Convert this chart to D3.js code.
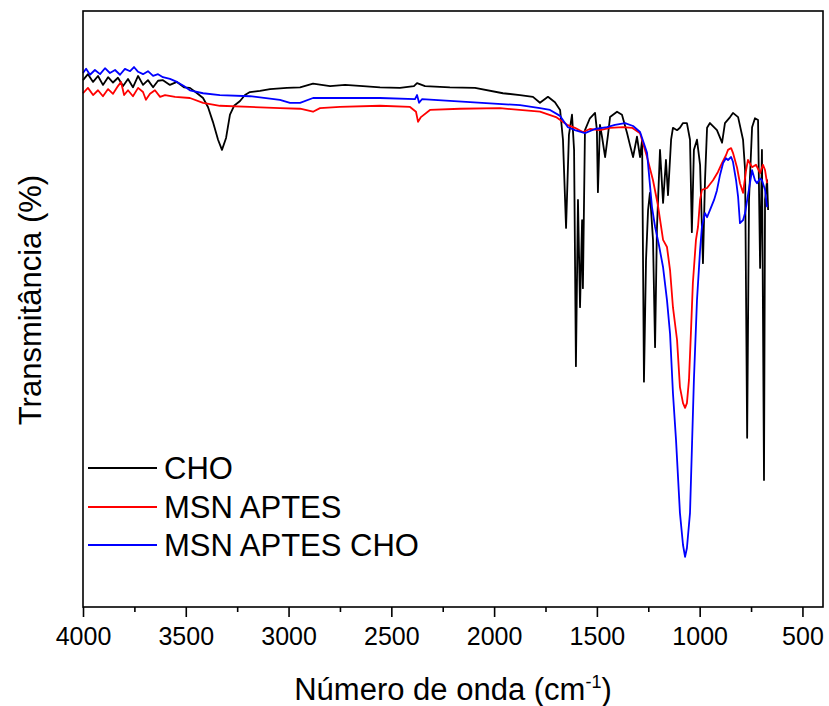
<!DOCTYPE html>
<html>
<head>
<meta charset="utf-8">
<script src="https://cdn.jsdelivr.net/npm/d3@7"></script>
<style>
body { margin: 0; background: #fff; }
text { font-family: Arial, "Liberation Sans", sans-serif; fill: #000; }
</style>
</head>
<body>
<svg id="chart" width="829" height="706"></svg>
<script>
// [wavenumber (cm-1), transmittance] pairs
var cho = [
	[4000, 88.4], [3976, 89.4], [3951, 88.1], [3927, 89.1], [3903, 87.6], [3878, 88.9], [3854, 88.0],
	[3830, 88.8], [3805, 87.4], [3781, 88.6], [3757, 87.2], [3732, 89.1], [3708, 87.6], [3684, 88.4],
	[3659, 87.2], [3635, 88.3], [3611, 88.4], [3577, 87.6], [3543, 88.1], [3509, 87.2], [3480, 87.1],
	[3445, 86.2], [3416, 85.4], [3392, 83.9], [3368, 81.4], [3343, 78.4], [3324, 76.7], [3304, 78.7],
	[3285, 82.6], [3265, 84.1], [3236, 84.9], [3212, 85.9], [3188, 86.4], [3139, 86.6], [3090, 86.9],
	[3008, 87.1], [2944, 87.2], [2881, 87.8], [2798, 87.4], [2725, 87.6], [2638, 87.4], [2555, 87.2],
	[2458, 87.1], [2390, 87.4], [2375, 87.9], [2336, 87.4], [2215, 87.2], [2093, 87.1], [1957, 86.2],
	[1874, 85.9], [1811, 85.6], [1777, 84.6], [1738, 85.6], [1704, 84.7], [1679, 83.4], [1665, 78.4],
	[1650, 63.6], [1636, 79.2], [1621, 82.6], [1611, 76.7], [1602, 40.4], [1592, 68.3], [1582, 50.3],
	[1572, 64.9], [1568, 53.5], [1558, 80.0], [1534, 82.0], [1509, 82.9], [1500, 80.0], [1495, 69.6],
	[1485, 80.9], [1475, 78.9], [1460, 75.5], [1446, 79.2], [1436, 82.2], [1402, 83.1], [1378, 82.6],
	[1353, 79.5], [1339, 77.5], [1324, 75.5], [1305, 78.9], [1290, 75.5], [1280, 78.4], [1271, 37.8],
	[1261, 58.2], [1251, 66.6], [1242, 69.5], [1227, 61.6], [1217, 43.6], [1208, 63.3], [1193, 76.7],
	[1178, 67.8], [1164, 75.0], [1154, 69.1], [1139, 78.4], [1130, 80.4], [1110, 80.0], [1096, 80.4],
	[1081, 81.2], [1062, 81.2], [1047, 78.4], [1038, 62.9], [1028, 76.7], [1013, 78.4], [998, 74.2],
	[984, 57.7], [974, 71.6], [964, 80.4], [950, 81.2], [916, 80.0], [891, 77.9], [877, 81.2],
	[852, 82.2], [838, 82.9], [813, 82.2], [789, 78.4], [779, 73.3], [769, 28.4], [760, 68.3],
	[745, 80.5], [731, 82.0], [716, 81.7], [706, 56.9], [697, 76.7], [687, 21.3], [682, 68.3],
	[672, 71.6], [667, 66.6]
]

var msnAptes = [
	[4000, 86.2], [3976, 87.1], [3951, 85.9], [3927, 86.7], [3903, 85.7], [3878, 86.9], [3854, 86.1],
	[3830, 87.4], [3815, 88.1], [3800, 85.9], [3781, 86.7], [3757, 85.7], [3732, 87.1], [3708, 86.4],
	[3694, 85.1], [3674, 86.1], [3650, 86.7], [3625, 85.6], [3601, 85.9], [3552, 85.6], [3480, 85.4],
	[3416, 84.6], [3334, 84.1], [3188, 83.9], [3042, 83.7], [2944, 83.6], [2881, 83.1], [2847, 83.7],
	[2750, 83.9], [2555, 84.1], [2409, 83.9], [2380, 83.1], [2370, 81.4], [2356, 82.2], [2312, 83.4],
	[2166, 83.6], [1971, 83.7], [1777, 83.1], [1699, 82.2], [1645, 80.9], [1607, 80.4], [1568, 79.7],
	[1534, 80.2], [1485, 80.0], [1436, 80.4], [1373, 80.5], [1329, 80.4], [1290, 79.5], [1256, 75.5],
	[1227, 71.6], [1203, 67.4], [1178, 61.6], [1159, 60.4], [1144, 56.5], [1130, 50.3], [1110, 44.8],
	[1096, 36.9], [1081, 34.2], [1071, 33.4], [1062, 34.2], [1052, 38.1], [1042, 46.5], [1033, 54.4],
	[1018, 61.6], [1008, 63.8], [998, 68.3], [989, 70.0], [964, 70.3], [935, 71.6], [911, 73.0],
	[891, 74.5], [872, 75.8], [862, 76.7], [847, 77.0], [838, 76.2], [818, 73.7], [804, 71.1],
	[789, 69.5], [774, 73.3], [765, 75.0], [745, 73.8], [726, 74.2], [706, 72.8], [692, 74.2],
	[682, 73.3], [672, 71.1]
]

var msnAptesCho = [
	[4000, 89.6], [3985, 90.3], [3966, 89.3], [3942, 90.1], [3917, 89.4], [3893, 90.4], [3869, 89.6],
	[3844, 90.1], [3820, 89.3], [3796, 90.3], [3771, 89.9], [3752, 90.6], [3732, 89.8], [3708, 89.4],
	[3684, 89.9], [3659, 89.1], [3635, 89.4], [3611, 88.9], [3577, 88.6], [3543, 88.1], [3509, 87.4],
	[3480, 86.7], [3416, 86.2], [3334, 85.9], [3188, 85.7], [3042, 85.1], [2993, 84.6], [2944, 84.6],
	[2881, 85.4], [2750, 85.4], [2555, 85.4], [2385, 85.2], [2375, 85.9], [2365, 84.6], [2351, 85.2],
	[2117, 84.7], [1874, 84.2], [1777, 83.7], [1728, 83.4], [1679, 82.4], [1641, 80.5], [1607, 80.0],
	[1558, 79.5], [1509, 80.2], [1451, 80.5], [1412, 80.9], [1363, 81.2], [1324, 80.7], [1290, 79.7],
	[1256, 76.2], [1232, 67.1], [1217, 63.8], [1198, 60.7], [1178, 57.0], [1159, 51.5], [1144, 45.8],
	[1130, 35.9], [1115, 28.0], [1096, 15.8], [1081, 10.4], [1071, 8.4], [1062, 9.9], [1047, 15.8],
	[1038, 26.3], [1028, 38.1], [1013, 51.5], [998, 59.9], [989, 63.8], [974, 66.1], [964, 65.4],
	[950, 66.6], [930, 68.3], [916, 69.9], [901, 72.5], [886, 74.5], [872, 75.3], [862, 75.0],
	[847, 75.5], [838, 74.7], [823, 71.6], [813, 68.8], [804, 64.4], [789, 64.9], [779, 66.1],
	[765, 69.1], [745, 73.3], [731, 71.6], [721, 71.1], [706, 71.9], [697, 71.6], [682, 70.0],
	[672, 67.1]
]

var seriesNames = ['CHO', 'MSN APTES', 'MSN APTES CHO']
var seriesColors = ['#000000', '#ff0000', '#0000ff']
var xTicks = [4000, 3500, 3000, 2500, 2000, 1500, 1000, 500]
var xMinorTicks = [3750, 3250, 2750, 2250, 1750, 1250, 750]

var svg = d3.select('#chart')
var plotLeft = 83, plotRight = 823, plotTop = 11, plotBottom = 607

var xScale = d3.scaleLinear().domain([4000, 400]).range([plotLeft, plotRight])
var yScale = d3.scaleLinear().domain([0, 100]).range([plotBottom, plotTop])

var line = d3.line()
	.x(function (d) { return xScale(d[0]) })
	.y(function (d) { return yScale(d[1]) })

var allSeries = [cho, msnAptes, msnAptesCho]

// spectra
svg.append('g')
	.selectAll('path')
	.data(allSeries)
	.enter()
	.append('path')
	.attr('d', line)
	.style('fill', 'none')
	.style('stroke', function (d, i) { return seriesColors[i] })
	.attr('stroke-width', 1.8)
	.attr('stroke-linejoin', 'round')

// frame
svg.append('rect')
	.attr('x', plotLeft).attr('y', plotTop)
	.attr('width', plotRight - plotLeft).attr('height', plotBottom - plotTop)
	.style('fill', 'none').style('stroke', '#000').attr('stroke-width', 1.6)

// bottom axis, major + minor ticks
var xAxis = d3.axisBottom(xScale).tickValues(xTicks).tickSize(10).tickPadding(10).tickFormat(d3.format('d'))
var gx = svg.append('g').attr('transform', 'translate(0,' + plotBottom + ')').call(xAxis)
gx.select('.domain').remove()
gx.selectAll('line').attr('stroke-width', 1.6)
gx.selectAll('text').style('font-size', '25px').style('font-family', 'Arial, "Liberation Sans", sans-serif')

var gMinor = svg.append('g').attr('transform', 'translate(0,' + plotBottom + ')')
	.call(d3.axisBottom(xScale).tickValues(xMinorTicks).tickSize(5).tickFormat(''))
gMinor.select('.domain').remove()
gMinor.selectAll('line').attr('stroke-width', 1.6)

// axis titles
var xTitle = svg.append('text')
	.attr('x', 453).attr('y', 700)
	.attr('text-anchor', 'middle')
	.style('font-size', '31px')
xTitle.append('tspan').text('Número de onda (cm')
xTitle.append('tspan').attr('dy', -12).style('font-size', '18px').text('-1')
xTitle.append('tspan').attr('dy', 12).text(')')

svg.append('text')
	.attr('transform', 'translate(41,300) rotate(-90)')
	.attr('text-anchor', 'middle')
	.style('font-size', '31px')
	.text('Transmitância (%)')

// legend
var legend = svg.append('g')
var legendY = [468, 507, 545]
legend.selectAll('line')
	.data(seriesNames)
	.enter()
	.append('line')
	.attr('x1', 88).attr('x2', 157)
	.attr('y1', function (d, i) { return legendY[i] })
	.attr('y2', function (d, i) { return legendY[i] })
	.style('stroke', function (d, i) { return seriesColors[i] })
	.attr('stroke-width', 1.8)
legend.selectAll('text')
	.data(seriesNames)
	.enter()
	.append('text')
	.attr('x', 164)
	.attr('y', function (d, i) { return legendY[i] + 11 })
	.style('font-size', '31px')
	.text(function (d) { return d })
</script>
</body>
</html>
